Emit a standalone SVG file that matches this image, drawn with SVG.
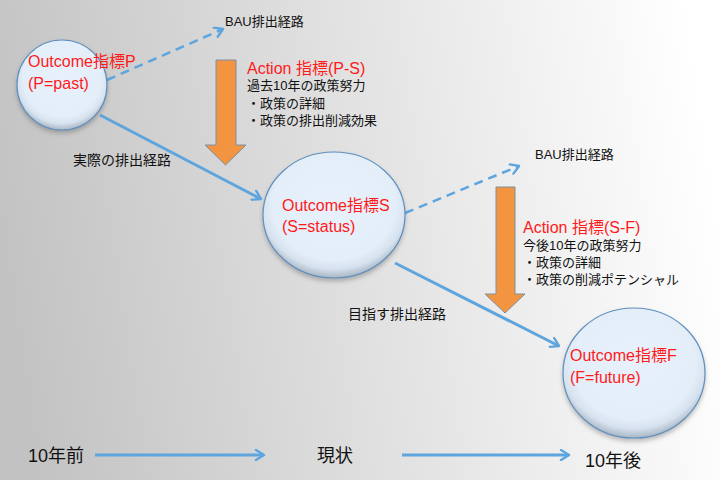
<svg xmlns="http://www.w3.org/2000/svg" width="720" height="480" viewBox="0 0 720 480">
<defs>
<linearGradient id="bg" x1="0" y1="0.55" x2="1" y2="0.45">
<stop offset="0" stop-color="#c2c2c2"/>
<stop offset="0.55" stop-color="#e4e4e4"/>
<stop offset="1" stop-color="#ffffff"/>
</linearGradient>
<radialGradient id="cf" cx="0.5" cy="0.42" r="0.62">
<stop offset="0" stop-color="#e8f1fb"/>
<stop offset="0.7" stop-color="#e3eef9"/>
<stop offset="0.82" stop-color="#d6e2ee"/>
<stop offset="1" stop-color="#8f9cab"/>
</radialGradient>
<filter id="sh" x="-20%" y="-20%" width="140%" height="150%">
<feGaussianBlur in="SourceAlpha" stdDeviation="2"/>
<feOffset dy="3" result="b"/>
<feFlood flood-color="#505050" flood-opacity="0.35"/>
<feComposite in2="b" operator="in"/>
<feMerge><feMergeNode/><feMergeNode in="SourceGraphic"/></feMerge>
</filter>
<marker id="ah" viewBox="0 0 12 12" refX="10" refY="6" markerWidth="12" markerHeight="12" markerUnits="userSpaceOnUse" orient="auto">
<path d="M2,1 L10,6 L2,11" fill="none" stroke="#5ea5de" stroke-width="2.4" stroke-linecap="round" stroke-linejoin="round"/>
</marker>
</defs>
<style>
.circ{fill:url(#cf);stroke:#5f8fbd;stroke-width:1.2;filter:url(#sh)}
.red{font-family:"Liberation Sans","Noto Sans CJK JP",sans-serif;font-size:16px;fill:#ff1a1a}
.blk{font-family:"Liberation Sans","Noto Sans CJK JP",sans-serif;font-size:13px;fill:#111}
.lbl{font-family:"Liberation Sans","Noto Sans CJK JP",sans-serif;font-size:14px;fill:#111}
.tl{font-family:"Liberation Sans","Noto Sans CJK JP",sans-serif;font-size:18px;fill:#111}
.solid{stroke:#5ea5de;stroke-width:3;fill:none;marker-end:url(#ah)}
.dash{stroke:#5ea5de;stroke-width:2.5;fill:none;stroke-dasharray:9 6;marker-end:url(#ah)}
.orange{fill:#f39440;stroke:#7d8fa4;stroke-width:1}
</style>
<rect x="0" y="0" width="720" height="480" fill="url(#bg)"/>

<g id="connectors">
<line class="dash" x1="107" y1="80" x2="223" y2="29"/>
<line class="solid" x1="100" y1="115" x2="261" y2="199"/>
<line class="dash" x1="405" y1="213" x2="519" y2="166"/>
<line class="solid" x1="395" y1="263" x2="559" y2="346"/>
<line class="solid" x1="95" y1="455" x2="264" y2="455"/>
<line class="solid" x1="402" y1="455" x2="569" y2="455"/>
</g>

<g id="action-ps">
<polygon class="orange" points="216,60 236,60 236,145 246,145 225.5,165 205,145 216,145"/>
<text class="red" x="247" y="74">Action 指標(P-S)</text>
<text class="blk" x="247" y="90">過去10年の政策努力</text>
<text class="blk" x="247" y="108">・政策の詳細</text>
<text class="blk" x="247" y="125">・政策の排出削減効果</text>
</g>

<g id="action-sf">
<polygon class="orange" points="496,187 515,187 515,294 525,294 505,313 485,294 496,294"/>
<text class="red" x="523" y="233">Action 指標(S-F)</text>
<text class="blk" x="523" y="250">今後10年の政策努力</text>
<text class="blk" x="523" y="267">・政策の詳細</text>
<text class="blk" x="523" y="284">・政策の削減ポテンシャル</text>
</g>

<g id="node-p">
<ellipse class="circ" cx="62" cy="85" rx="45" ry="45"/>
<text class="red" x="28" y="67">Outcome指標P</text>
<text class="red" x="28" y="89">(P=past)</text>
</g>

<g id="node-s">
<ellipse class="circ" cx="334" cy="215" rx="71" ry="63"/>
<text class="red" x="282" y="211">Outcome指標S</text>
<text class="red" x="282" y="232">(S=status)</text>
</g>

<g id="node-f">
<ellipse class="circ" cx="634" cy="373" rx="71" ry="65"/>
<text class="red" x="570" y="361">Outcome指標F</text>
<text class="red" x="570" y="383">(F=future)</text>
</g>

<g id="labels">
<text class="blk" x="225" y="26">BAU排出経路</text>
<text class="blk" x="535" y="159">BAU排出経路</text>
<text class="lbl" x="73" y="165">実際の排出経路</text>
<text class="lbl" x="348" y="319">目指す排出経路</text>
<text class="tl" x="28" y="462">10年前</text>
<text class="tl" x="317" y="462">現状</text>
<text class="tl" x="585" y="467">10年後</text>
</g>
</svg>
